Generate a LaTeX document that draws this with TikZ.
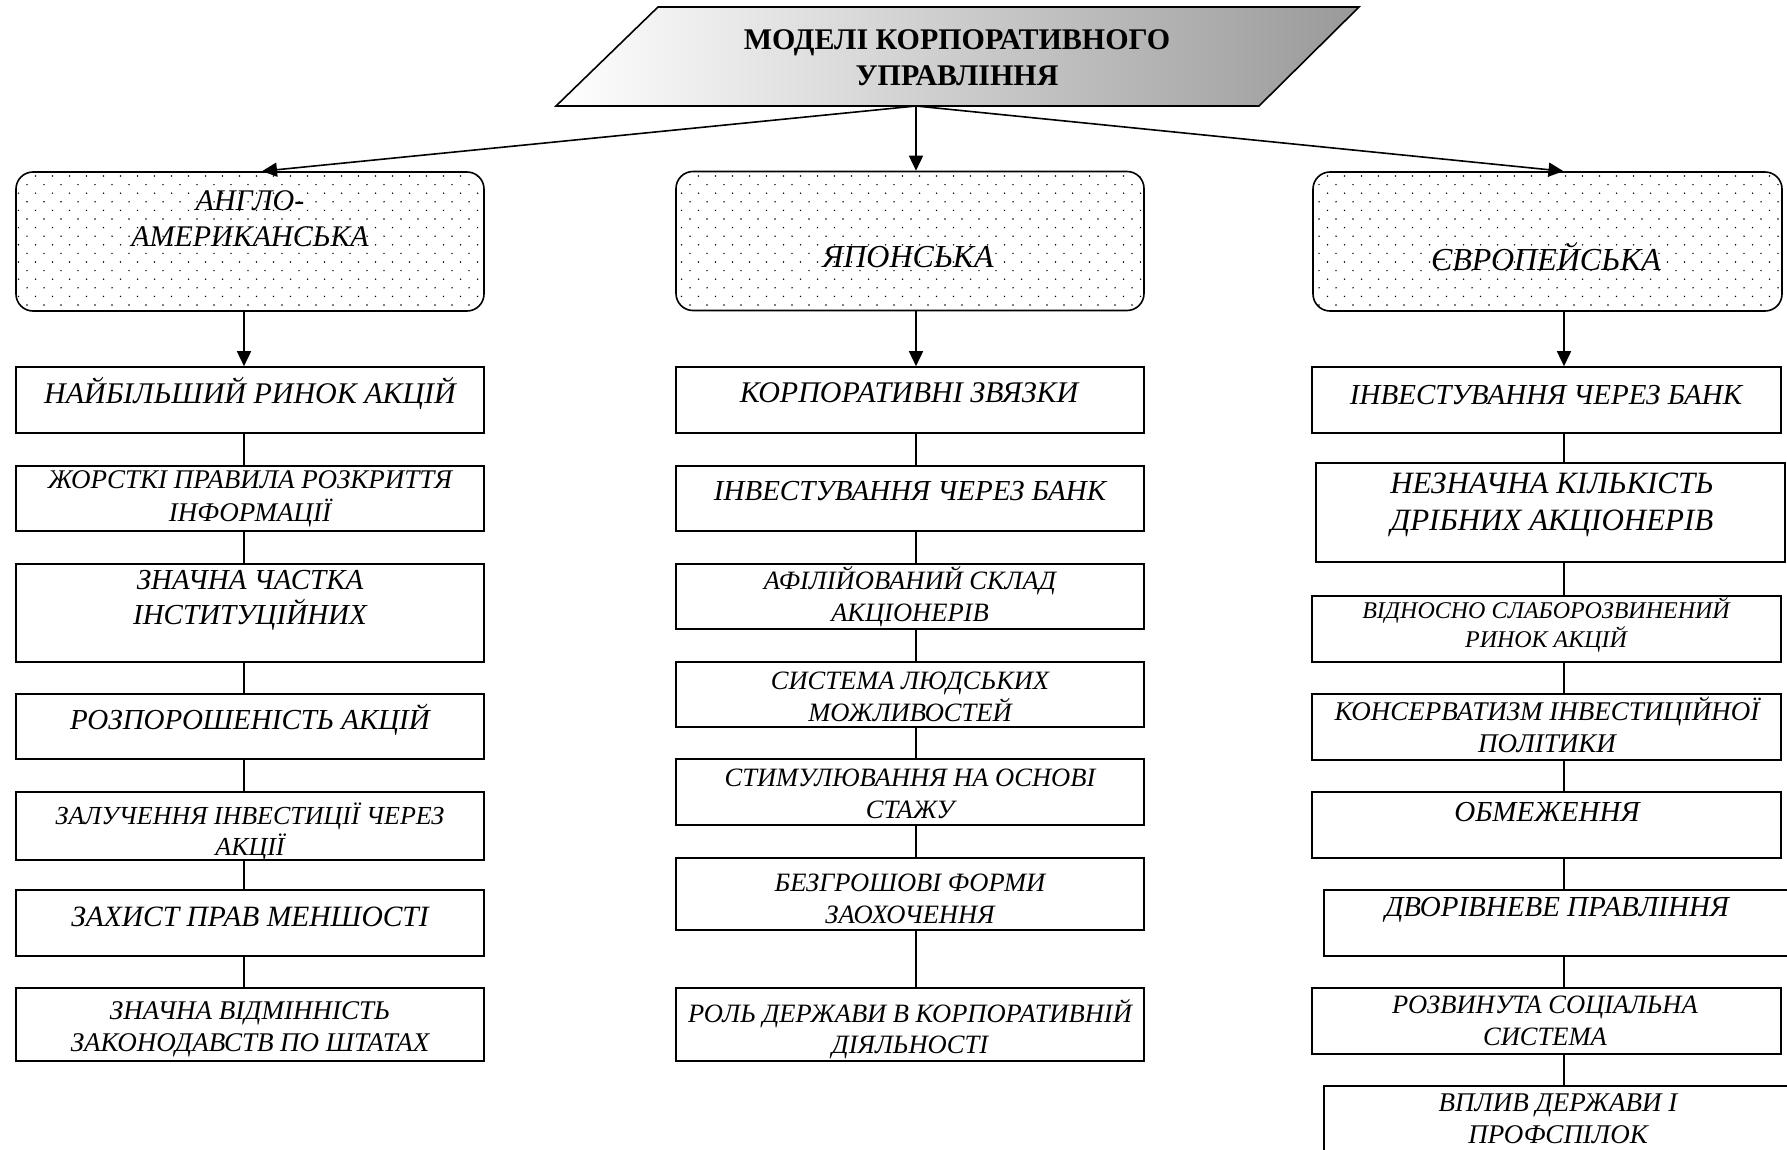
\documentclass[tikz,border=0pt]{standalone}
\usepackage{fontspec}
\setmainfont{Liberation Serif}
\usetikzlibrary{arrows.meta,calc}

\newcommand{\fsz}[1]{\fontsize{#1}{\dimexpr #1pt*6/5\relax}\selectfont}

\begin{document}
\begin{tikzpicture}[x=1pt, y=-1pt, > = {Triangle[length=15pt, width=14pt]},
	item/.style = {draw, line width=1.6pt, minimum width=468pt, inner sep=0pt},
	head/.style = {item, rounded corners=17pt, minimum height=139pt},
	txt/.style = {align=center, inner sep=0pt, font=\itshape\fsz{#1}},
	link/.style = {line width=1.6pt},
	]

	\clip (0,0) rectangle (1787,1150);

	% title
	\draw[line width=1.6pt, left color=white, right color=black!40] (658,7) -- (1359,7) -- (1259,106) -- (556,106) -- cycle;
	\node[align=center, inner sep=0pt, font=\bfseries\fsz{30}] (title) at (957,58) {МОДЕЛІ КОРПОРАТИВНОГО\\УПРАВЛІННЯ};
	\coordinate (hub) at (916,106);

	% three models
	\node[head] (ang) at (250,241.5) {};
	\node[head] (jap) at (910,241) {};
	\node[head, minimum width=469pt] (eur) at (1547.5,241.5) {};
	\begin{scope} % dotted fill
		\clip[rounded corners=17pt] (ang.south west) rectangle (ang.north east)
			(jap.south west) rectangle (jap.north east) (eur.south west) rectangle (eur.north east);
		\foreach \y [count=\k] in {176,184.6,...,310} {
			\pgfmathsetmacro\off{mod(\k,2)*8.5}
			\foreach \x in {10,27,...,1786}
				\fill (\x+\off,\y) circle (0.8pt);
		}
	\end{scope}
	\node[txt=30] (angt) at (250,218.5) {АНГЛО-\\АМЕРИКАНСЬКА};
	\node[txt=32] (japt) at (908,257) {ЯПОНСЬКА};
	\node[txt=32] (eurt) at (1546,257) {ЄВРОПЕЙСЬКА};

	\draw[link, ->] (hub) -- ($(ang.north)+(12,0)$);
	\draw[link, ->] (hub) -- (jap.north -| hub);
	\draw[link, ->] (hub) -- ($(eur.north)+(16,0)$);

	\coordinate (ax) at (244,0);
	\coordinate (jx) at (916,0);
	\coordinate (ex) at (1564,0);

	% anglo-american column
	\node[item, minimum height=66pt] (a1) at (250,400) {};
	\node[item, minimum height=65pt] (a2) at (250,498.5) {};
	\node[item, minimum height=98pt] (a3) at (250,613) {};
	\node[item, minimum height=65pt] (a4) at (250,726.5) {};
	\node[item, minimum height=68pt] (a5) at (250,826) {};
	\node[item, minimum height=66pt] (a6) at (250,923) {};
	\node[item, minimum height=73pt] (a7) at (250,1024.5) {};
	\node[txt=30] (a1t) at (250,393) {НАЙБІЛЬШИЙ РИНОК АКЦІЙ};
	\node[txt=27] (a2t) at (250,499) {ЖОРСТКІ ПРАВИЛА РОЗКРИТТЯ\\ІНФОРМАЦІЇ};
	\node[txt=29] (a3t) at (250,600) {ЗНАЧНА ЧАСТКА\\ІНСТИТУЦІЙНИХ};
	\node[txt=29] (a4t) at (250,720) {РОЗПОРОШЕНІСТЬ АКЦІЙ};
	\node[txt=26] (a5t) at (250,832) {ЗАЛУЧЕННЯ ІНВЕСТИЦІЇ ЧЕРЕЗ\\АКЦІЇ};
	\node[txt=29.5] (a6t) at (250,917) {ЗАХИСТ ПРАВ МЕНШОСТІ};
	\node[txt=27] (a7t) at (250,1029) {ЗНАЧНА ВІДМІННІСТЬ\\ЗАКОНОДАВСТВ ПО ШТАТАХ};

	\draw[link, ->] (ang.south -| ax) -- (a1.north -| ax);
	\draw[link] (a1.south -| ax) -- (a2.north -| ax);
	\draw[link] (a2.south -| ax) -- (a3.north -| ax);
	\draw[link] (a3.south -| ax) -- (a4.north -| ax);
	\draw[link] (a4.south -| ax) -- (a5.north -| ax);
	\draw[link] (a5.south -| ax) -- (a6.north -| ax);
	\draw[link] (a6.south -| ax) -- (a7.north -| ax);

	% japanese column
	\node[item, minimum height=66pt] (m1) at (910,400) {};
	\node[item, minimum height=65pt] (m2) at (910,498.5) {};
	\node[item, minimum height=65pt] (m3) at (910,596.5) {};
	\node[item, minimum height=65pt] (m4) at (910,694.5) {};
	\node[item, minimum height=66pt] (m5) at (910,792) {};
	\node[item, minimum height=72pt] (m6) at (910,894) {};
	\node[item, minimum height=73pt] (m7) at (910,1024.5) {};
	\node[txt=30] (m1t) at (909,393) {КОРПОРАТИВНІ ЗВЯЗКИ};
	\node[txt=29] (m2t) at (910,491) {ІНВЕСТУВАННЯ ЧЕРЕЗ БАНК};
	\node[txt=26.5] (m3t) at (910,596.5) {АФІЛІЙОВАНИЙ СКЛАД\\АКЦІОНЕРІВ};
	\node[txt=26.5] (m4t) at (910,697) {СИСТЕМА ЛЮДСЬКИХ\\МОЖЛИВОСТЕЙ};
	\node[txt=26.5] (m5t) at (910,793.5) {СТИМУЛЮВАННЯ НА ОСНОВІ\\СТАЖУ};
	\node[txt=26.5] (m6t) at (910,898.5) {БЕЗГРОШОВІ ФОРМИ\\ЗАОХОЧЕННЯ};
	\node[txt=26.5] (m7t) at (910,1029) {РОЛЬ ДЕРЖАВИ В КОРПОРАТИВНІЙ\\ДІЯЛЬНОСТІ};

	\draw[link, ->] (jap.south -| jx) -- (m1.north -| jx);
	\draw[link] (m1.south -| jx) -- (m2.north -| jx);
	\draw[link] (m2.south -| jx) -- (m3.north -| jx);
	\draw[link] (m3.south -| jx) -- (m4.north -| jx);
	\draw[link] (m4.south -| jx) -- (m5.north -| jx);
	\draw[link] (m5.south -| jx) -- (m6.north -| jx);
	\draw[link] (m6.south -| jx) -- (m7.north -| jx);

	% european column
	\node[item, minimum width=469pt, minimum height=66pt] (r1) at (1546.5,400) {};
	\node[item, minimum width=469pt, minimum height=99pt] (r2) at (1550.5,512.5) {};
	\node[item, minimum width=469pt, minimum height=66pt] (r3) at (1546.5,629) {};
	\node[item, minimum width=469pt, minimum height=66pt] (r4) at (1546.5,727) {};
	\node[item, minimum width=469pt, minimum height=66pt] (r5) at (1546.5,825) {};
	\node[item, minimum width=471pt, minimum height=66pt] (r6) at (1559.5,923) {};
	\node[item, minimum width=469pt, minimum height=66pt] (r7) at (1546.5,1021) {};
	\node[item, minimum width=471pt, minimum height=79pt] (r8) at (1559.5,1125.5) {};
	\node[txt=29] (r1t) at (1546,395) {ІНВЕСТУВАННЯ ЧЕРЕЗ БАНК};
	\node[txt=31] (r2t) at (1552,505) {НЕЗНАЧНА КІЛЬКІСТЬ\\ДРІБНИХ АКЦІОНЕРІВ};
	\node[txt=24] (r3t) at (1546,625) {ВІДНОСНО СЛАБОРОЗВИНЕНИЙ\\РИНОК АКЦІЙ};
	\node[txt=27] (r4t) at (1547,725) {КОНСЕРВАТИЗМ ІНВЕСТИЦІЙНОЇ\\ПОЛІТИКИ};
	\node[txt=29] (r5t) at (1547,812) {ОБМЕЖЕННЯ};
	\node[txt=29] (r6t) at (1557,910) {ДВОРІВНЕВЕ ПРАВЛІННЯ};
	\node[txt=26.5] (r7t) at (1545,1021) {РОЗВИНУТА СОЦІАЛЬНА\\СИСТЕМА};
	\node[txt=27] (r8t) at (1558,1119) {ВПЛИВ ДЕРЖАВИ І\\ПРОФСПІЛОК};

	\draw[link, ->] (eur.south -| ex) -- (r1.north -| ex);
	\draw[link] (r1.south -| ex) -- (r2.north -| ex);
	\draw[link] (r2.south -| ex) -- (r3.north -| ex);
	\draw[link] (r3.south -| ex) -- (r4.north -| ex);
	\draw[link] (r4.south -| ex) -- (r5.north -| ex);
	\draw[link] (r5.south -| ex) -- (r6.north -| ex);
	\draw[link] (r6.south -| ex) -- (r7.north -| ex);
	\draw[link] (r7.south -| ex) -- (r8.north -| ex);

\end{tikzpicture}
\end{document}
